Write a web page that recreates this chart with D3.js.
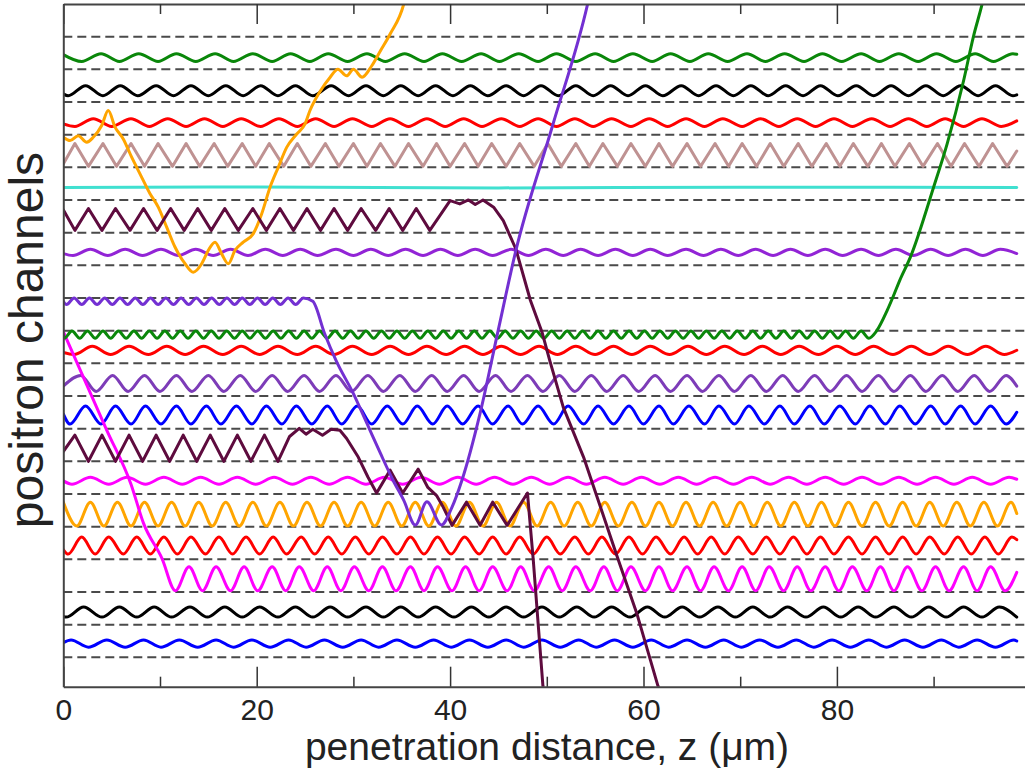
<!DOCTYPE html>
<html>
<head>
<meta charset="utf-8">
<script src="https://cdn.jsdelivr.net/npm/d3@7"></script>
<style>
  html, body { margin: 0; padding: 0; background: #fff; }
  svg { display: block; }
</style>
</head>
<body>
<svg id="chart" width="1025" height="773"></svg>
<script>
'use strict';

// z axis ticks (µm)
const majorTicks = [0, 20, 40, 60, 80, 100];
const labelTicks = [0, 20, 40, 60, 80];
const minorTicks = [10, 30, 50, 70, 90];

// channel walls, in channel units (0 = lowest wall)
const channelWalls = [0, 1, 2, 3, 4, 5, 6, 7, 8, 9, 10, 11, 12, 13, 14, 15, 16, 17, 18, 19];

// turning points (z in µm) of each channelled positron
const greenTurns = [1.9,3.9,5.8,7.8,9.8,11.7,13.7,15.7,17.6,19.6,21.6,23.5,25.5,27.4,29.4,31.4,33.3,35.3,37.3,39.2,41.2,43.2,45.1,47.1,49.1,51.0,53.0,55.0,56.9,58.9,60.9,62.8,64.8,66.7,68.7,70.7,72.6,74.6,76.6,78.5,80.5,82.5,84.4,86.4,88.4,90.3,92.3,94.3,96.2,98.2];
const blackTurns = [0.5,2.3,4.1,5.9,7.7,9.6,11.4,13.2,15.0,16.8,18.6,20.4,22.2,24.0,25.8,27.7,29.5,31.3,33.1,34.9,36.7,38.5,40.3,42.1,43.9,45.8,47.6,49.4,51.2,53.0,54.8,56.6,58.4,60.2,62.0,63.9,65.7,67.5,69.3,71.1,72.9,74.7,76.5,78.3,80.1,82.0,83.8,85.6,87.4,89.2,91.0,92.8,94.6,96.4,98.2];
const redTurns = [1.2,3.1,5.0,7.0,8.9,10.8,12.7,14.6,16.5,18.4,20.4,22.3,24.2,26.1,28.0,29.9,31.9,33.8,35.7,37.6,39.5,41.4,43.3,45.3,47.2,49.1,51.0,52.9,54.8,56.7,58.7,60.6,62.5,64.4,66.3,68.2,70.2,72.1,74.0,75.9,77.8,79.7,81.6,83.6,85.5,87.4,89.3,91.2,93.1,95.0,97.0];
const brownTurns = [1.2,2.6,4.1,5.5,7.0,8.4,9.8,11.3,12.7,14.1,15.6,17.0,18.5,19.9,21.3,22.8,24.2,25.6,27.1,28.5,30.0,31.4,32.8,34.3,35.7,37.2,38.6,40.0,41.5,42.9,44.3,45.8,47.2,48.7,50.1,51.5,53.0,54.4,55.8,57.3,58.7,60.2,61.6,63.0,64.5,65.9,67.4,68.8,70.2,71.7,73.1,74.5,76.0,77.4,78.9,80.3,81.7,83.2,84.6,86.0,87.5,88.9,90.4,91.8,93.2,94.7,96.1,97.6];
const cyanPath = [[0,14.38],[20,14.40],[45,14.37],[70,14.39],[98.6,14.38]];
const maroonTurns = [1.2,2.6,4.0,5.4,6.9,8.3,9.7,11.1,12.5,13.9,15.3,16.7,18.1,19.6,21.0,22.4,23.8,25.2,26.6,28.0,29.4,30.8,32.3,33.7,35.1,36.5,37.9];
const maroonEscape = [[40.0,13.98],[41.0,13.88],[41.9,14.0],[42.6,13.86],[43.4,14.0],[44.5,13.78],[45.5,13.37],[46.8,12.5],[48.3,10.93],[49.5,9.96],[50.3,9.09],[51.7,7.66],[53.8,6.13],[55.2,4.91],[57.3,3.06],[59.3,1.35],[61.5,-0.88],[61.8,-1.1]];
const violetTurns = [1.0,2.8,4.6,6.4,8.2,10.1,11.9,13.7,15.5,17.3,19.1,20.9,22.7,24.5,26.3,28.2,30.0,31.8,33.6,35.4,37.2,39.0,40.8,42.6,44.4,46.3,48.1,49.9,51.7,53.5,55.3,57.1,58.9,60.7,62.5,64.4,66.2,68.0,69.8,71.6,73.4,75.2,77.0,78.8,80.6,82.5,84.3,86.1,87.9,89.7,91.5,93.3,95.1,96.9];
const purpleTurns = [0.33,1.12,1.91,2.70,3.49,4.28,5.07,5.86,6.65,7.44,8.23,9.02,9.81,10.60,11.39,12.18,12.97,13.76,14.55,15.34,16.13,16.92,17.71,18.50,19.29,20.08,20.87,21.66,22.45,23.24,24.03,24.82];
const purpleEscape = [[25.8,10.9],[27.0,9.93],[28.2,9.09],[30.0,8.07],[31.4,7.16],[32.8,6.24],[34.1,5.42],[35.2,4.81],[36.4,4.05],[37.6,4.76],[39.1,4.05],[40.2,4.6],[41.2,5.4],[43.1,7.47],[44.9,9.91],[46.8,12.45],[50.6,16.28],[54.3,20.1],[54.6,20.5]];
const greenEdgeTurns = [0.1,0.9,1.7,2.5,3.3,4.1,4.9,5.7,6.5,7.3,8.1,8.9,9.7,10.5,11.3,12.1,12.9,13.7,14.5,15.3,16.1,16.9,17.7,18.5,19.3,20.1,20.9,21.7,22.5,23.3,24.1,24.9,25.7,26.5,27.3,28.1,28.9,29.7,30.5,31.3,32.1,32.9,33.7,34.5,35.3,36.1,36.9,37.7,38.5,39.3,40.1,40.9,41.7,42.5,43.3,44.1,44.9,45.7,46.5,47.3,48.1,48.9,49.7,50.5,51.3,52.1,52.9,53.7,54.5,55.3,56.1,56.9,57.7,58.5,59.3,60.1,60.9,61.7,62.5,63.3,64.1,64.9,65.7,66.5,67.3,68.1,68.9,69.7,70.5,71.3,72.1,72.9,73.7,74.5,75.3,76.1,76.9,77.7,78.5,79.3,80.1,80.9,81.7,82.5,83.3,84.1];
const greenEscape = [[85.2,10.62],[85.8,11.03],[86.5,11.54],[87.6,12.25],[90.0,14.39],[91.4,15.72],[93.1,17.65],[94.1,18.98],[95.1,20.1],[95.4,20.5]];
const red2Turns = [1.1,3.0,4.9,6.8,8.8,10.7,12.6,14.5,16.5,18.4,20.3,22.2,24.2,26.1,28.0,29.9,31.9,33.8,35.7,37.6,39.6,41.5,43.4,45.3,47.3,49.2,51.1,53.0,55.0,56.9,58.8,60.7,62.7,64.6,66.5,68.4,70.4,72.3,74.2,76.1,78.1,80.0,81.9,83.8,85.8,87.7,89.6,91.5,93.5,95.4,97.3];
const lavenderTurns = [1.8,3.4,5.1,6.7,8.4,10.0,11.7,13.3,15.0,16.6,18.3,19.9,21.6,23.2,24.9,26.5,28.2,29.8,31.5,33.1,34.8,36.4,38.1,39.7,41.4,43.0,44.7,46.3,48.0,49.6,51.3,52.9,54.6,56.2,57.9,59.5,61.2,62.8,64.5,66.1,67.8,69.4,71.1,72.7,74.4,76.0,77.7,79.3,81.0,82.6,84.3,85.9,87.6,89.2,90.9,92.5,94.2,95.8,97.5];
const blueTurns = [0.7,2.3,3.9,5.4,7.0,8.5,10.1,11.7,13.2,14.8,16.3,17.9,19.5,21.0,22.6,24.1,25.7,27.3,28.8,30.4,31.9,33.5,35.1,36.6,38.2,39.7,41.3,42.9,44.4,46.0,47.5,49.1,50.7,52.2,53.8,55.3,56.9,58.5,60.0,61.6,63.1,64.7,66.3,67.8,69.4,70.9,72.5,74.1,75.6,77.2,78.7,80.3,81.9,83.4,85.0,86.5,88.1,89.7,91.2,92.8,94.3,95.9,97.5];
const plumTurns = [1.2,2.6,4.0,5.4,6.8,8.2,9.6,11.0,12.4,13.8,15.2,16.6,18.0,19.4,20.8,22.2];
const plumEscape = [[23.4,6.76],[24.4,7.01],[25.1,6.83],[25.8,6.98],[26.8,6.8],[27.7,6.98],[28.6,6.95],[29.3,6.7],[30.5,6.13],[31.5,5.52],[32.4,5.03],[33.8,5.73],[35.1,5.03],[36.7,5.76],[37.7,5.2],[38.6,4.95],[39.3,4.59],[40.2,4.04],[41.7,4.75],[43.1,4.04],[44.4,4.75],[45.9,4.04],[48.0,5.03],[48.6,2.98],[49.6,-0.88],[49.7,-1.1]];
const magentaTurns = [0.9,2.8,4.7,6.6,8.5,10.4,12.3,14.2,16.1,18.0,19.9,21.8,23.7,25.6,27.5,29.4,31.3,33.2,35.1,37.0,38.9,40.8,42.7,44.6,46.5,48.4,50.3,52.2,54.1,56.0,57.9,59.8,61.7,63.6,65.5,67.4,69.3,71.2,73.1,75.0,76.9,78.8,80.7,82.6,84.5,86.4,88.3,90.2,92.1,94.0,95.9,97.8];
const orangeTurns = [0.0,1.4,2.8,4.2,5.6,7.0,8.4,9.8,11.2,12.6,14.0,15.4,16.8,18.2,19.6,21.0,22.4,23.8,25.2,26.6,28.0,29.4,30.8,32.2,33.6,35.0,36.4,37.8,39.2,40.6,42.0,43.4,44.8,46.2,47.6,49.0,50.4,51.8,53.2,54.6,56.0,57.4,58.8,60.2,61.6,63.0,64.4,65.8,67.2,68.6,70.0,71.4,72.8,74.2,75.6,77.0,78.4,79.8,81.2,82.6,84.0,85.4,86.8,88.2,89.6,91.0,92.4,93.8,95.2,96.6,98.0];
const red3Turns = [0.5,1.9,3.3,4.7,6.2,7.6,9.0,10.4,11.8,13.2,14.7,16.1,17.5,18.9,20.3,21.7,23.1,24.6,26.0,27.4,28.8,30.2,31.6,33.0,34.5,35.9,37.3,38.7,40.1,41.5,43.0,44.4,45.8,47.2,48.6,50.0,51.4,52.9,54.3,55.7,57.1,58.5,59.9,61.3,62.8,64.2,65.6,67.0,68.4,69.8,71.3,72.7,74.1,75.5,76.9,78.3,79.7,81.2,82.6,84.0,85.4,86.8,88.2,89.6,91.1,92.5,93.9,95.3,96.7,98.1];
const magentaEntry = [[0,9.97],[4.5,6.95],[7.0,5.3],[8.3,4.1],[10.2,3.03]];
const magenta2Turns = [11.6,13.0,14.4,15.8,17.3,18.7,20.1,21.6,23.0,24.4,25.9,27.3,28.7,30.1,31.6,33.0,34.4,35.9,37.3,38.7,40.2,41.6,43.0,44.4,45.9,47.3,48.7,50.2,51.6,53.0,54.5,55.9,57.3,58.7,60.2,61.6,63.0,64.5,65.9,67.3,68.8,70.2,71.6,73.0,74.5,75.9,77.3,78.8,80.2,81.6,83.1,84.5,85.9,87.3,88.8,90.2,91.6,93.1,94.5,95.9,97.4];
const black2Turns = [0.3,2.1,4.0,5.8,7.6,9.4,11.2,13.1,14.9,16.7,18.5,20.3,22.2,24.0,25.8,27.6,29.4,31.3,33.1,34.9,36.7,38.5,40.4,42.2,44.0,45.8,47.6,49.5,51.3,53.1,54.9,56.7,58.6,60.4,62.2,64.0,65.8,67.7,69.5,71.3,73.1,74.9,76.8,78.6,80.4,82.2,84.0,85.9,87.7,89.5,91.3,93.1,95.0,96.8,98.6];
const blue2Turns = [0.8,2.6,4.5,6.4,8.3,10.1,12.0,13.9,15.8,17.6,19.5,21.4,23.3,25.1,27.0,28.9,30.8,32.6,34.5,36.4,38.3,40.1,42.0,43.9,45.8,47.6,49.5,51.4,53.3,55.1,57.0,58.9,60.8,62.6,64.5,66.4,68.3,70.1,72.0,73.9,75.8,77.6,79.5,81.4,83.3,85.1,87.0,88.9,90.8,92.6,94.5,96.4,98.3];

// positron that starts above the channels (top-left, orange)
const orangeFree = [[0,15.92],[0.7,15.82],[1.55,15.97],[2.42,15.77],[3.1,15.92],[3.97,16.28],[4.65,16.74],[5.35,16.23],[6.2,15.87],[7.07,15.31],[7.93,14.8],[8.97,14.19],[9.82,13.78],[10.69,13.17],[11.55,12.56],[12.59,12.05],[13.44,11.79],[14.31,12.05],[15.0,12.46],[15.69,12.71],[16.38,12.35],[17.06,12.05],[17.76,12.46],[18.61,12.71],[19.65,12.97],[20.52,13.58],[21.38,14.39],[22.23,15.0],[23.1,15.61],[24.14,16.02],[25.0,16.33],[25.51,16.74],[26.5,17.3],[27.6,17.76],[28.4,18.0],[29.3,17.8],[30.0,18.0],[30.9,17.76],[31.9,18.11],[32.8,18.57],[33.8,19.08],[35.3,20.1],[35.6,20.5]];

// alternate the turning points between the two extremes of the oscillation
function swing(zs, first, second) {
  return zs.map((z, i) => [z, i % 2 ? second : first]);
}

const smooth = d3.curveMonotoneX;
const sharp = d3.curveLinear;

// channelled ones first, escaping ones on top
const trajectories = [
  {color: '#0a870a', curve: smooth, pts: [[0, 18.45], ...swing(greenTurns, 18.24, 18.48), [98.6, 18.46]]},
  {color: '#000000', curve: smooth, pts: [[0, 17.25], ...swing(blackTurns, 17.19, 17.50), [98.6, 17.22]]},
  {color: '#ff0000', curve: smooth, pts: [[0, 16.33], ...swing(redTurns, 16.25, 16.49), [98.6, 16.42]]},
  {color: '#bf9292', curve: sharp, pts: [[0, 15.1], ...swing(brownTurns, 15.73, 15.03), [98.6, 15.5]]},
  {color: '#40e0d0', curve: smooth, pts: cyanPath},
  {color: '#9224d6', curve: smooth, pts: [[0, 12.36], ...swing(violetTurns, 12.30, 12.49), [98.6, 12.36]]},
  {color: '#ff0000', curve: smooth, pts: [[0, 9.33], ...swing(red2Turns, 9.27, 9.52), [98.6, 9.4]]},
  {color: '#7d3cb8', curve: smooth, pts: [[0, 8.3], ...swing(lavenderTurns, 8.63, 8.14), [98.6, 8.3]]},
  {color: '#0000ff', curve: smooth, pts: [[0, 7.45], ...swing(blueTurns, 7.14, 7.69), [98.6, 7.5]]},
  {color: '#ff00ff', curve: smooth, pts: [[0, 5.4], ...swing(magentaTurns, 5.30, 5.51), [98.6, 5.45]]},
  {color: '#ffa500', curve: smooth, pts: [...swing(orangeTurns, 4.75, 4.02), [98.6, 4.4]]},
  {color: '#ff0000', curve: smooth, pts: [[0, 3.3], ...swing(red3Turns, 3.16, 3.68), [98.6, 3.6]]},
  {color: '#000000', curve: smooth, pts: [[0, 1.25], ...swing(black2Turns, 1.23, 1.54)]},
  {color: '#0000ff', curve: smooth, pts: [[0, 0.45], ...swing(blue2Turns, 0.53, 0.31), [98.6, 0.5]]},
  {color: '#ff00ff', curve: smooth, pts: [...magentaEntry, ...swing(magenta2Turns, 2.04, 2.77), [98.6, 2.6]]},
  {color: '#0a870a', curve: smooth, pts: [[0, 9.85], ...swing(greenEdgeTurns, 9.77, 9.99), ...greenEscape]},
  {color: '#ffa500', curve: smooth, pts: orangeFree},
  {color: '#5e0b3e', curve: sharp, pts: [[0, 13.7], ...swing(maroonTurns, 13.07, 13.74), ...maroonEscape]},
  {color: '#5e0b3e', curve: sharp, pts: [[0, 6.3], ...swing(plumTurns, 6.80, 6.00), ...plumEscape]},
  {color: '#7330d2', curve: smooth, pts: [[0, 10.9], ...swing(purpleTurns, 10.80, 11.0), ...purpleEscape]}
];

const x = d3.scaleLinear().domain([0, 100]).range([63.3, 1030.3]);
const y = d3.scaleLinear().domain([-0.9, 20]).range([686.7, 4]);

const svg = d3.select('#chart');

svg.append('defs').append('clipPath').attr('id', 'plot-area')
  .append('rect')
  .attr('x', x(0)).attr('y', y(20))
  .attr('width', x(100) - x(0)).attr('height', y(-0.9) - y(20));

// dashed channel walls
svg.append('g')
  .selectAll('line')
  .data(channelWalls)
  .join('line')
  .attr('x1', x(0)).attr('x2', x(100))
  .attr('y1', d => y(d)).attr('y2', d => y(d))
  .attr('stroke', '#4a4a4a')
  .attr('stroke-width', 2)
  .attr('stroke-dasharray', '9,5');

svg.append('g')
  .attr('clip-path', 'url(#plot-area)')
  .selectAll('path')
  .data(trajectories)
  .join('path')
  .attr('d', d => d3.line().x(p => x(p[0])).y(p => y(p[1])).curve(d.curve)(d.pts))
  .attr('fill', 'none')
  .attr('stroke', d => d.color)
  .attr('stroke-width', 3)
  .attr('stroke-linejoin', 'round')
  .attr('stroke-linecap', 'round');

// frame and ticks (ticks point inward)
function styleAxis(g) {
  g.selectAll('.domain').attr('stroke', '#444').attr('stroke-width', 2);
  g.selectAll('.tick line').attr('stroke', '#333').attr('stroke-width', 1.5);
  g.selectAll('text')
    .attr('font-family', '"Liberation Sans", Arial, sans-serif')
    .attr('font-size', 30)
    .attr('fill', '#222');
}

svg.append('g')
  .attr('transform', `translate(0,${y(-0.9)})`)
  .call(d3.axisBottom(x).tickValues(labelTicks).tickSize(-20).tickSizeOuter(0).tickPadding(12).tickFormat(d3.format('d')))
  .call(styleAxis);

svg.append('g')
  .attr('transform', `translate(0,${y(-0.9)})`)
  .call(d3.axisBottom(x).tickValues(minorTicks).tickSize(-10).tickSizeOuter(0).tickFormat(''))
  .call(g => g.select('.domain').remove())
  .call(styleAxis);

svg.append('g')
  .attr('transform', `translate(0,${y(20)})`)
  .call(d3.axisTop(x).tickValues(majorTicks).tickSize(-20).tickSizeOuter(0).tickFormat(''))
  .call(styleAxis);

svg.append('g')
  .attr('transform', `translate(0,${y(20)})`)
  .call(d3.axisTop(x).tickValues(minorTicks).tickSize(-10).tickSizeOuter(0).tickFormat(''))
  .call(g => g.select('.domain').remove())
  .call(styleAxis);

svg.append('g')
  .attr('transform', `translate(${x(0)},0)`)
  .call(d3.axisLeft(y).tickValues([]).tickSizeOuter(0))
  .call(styleAxis);

// axis titles
svg.append('text')
  .attr('x', 547).attr('y', 760)
  .attr('text-anchor', 'middle')
  .attr('font-family', '"Liberation Sans", Arial, sans-serif')
  .attr('font-size', 39)
  .attr('fill', '#222')
  .text('penetration distance, z (\u03bcm)');

svg.append('text')
  .attr('transform', 'translate(43,340) rotate(-90)')
  .attr('text-anchor', 'middle')
  .attr('font-family', '"Liberation Sans", Arial, sans-serif')
  .attr('font-size', 48)
  .attr('fill', '#222')
  .text('positron channels');
</script>
</body>
</html>
